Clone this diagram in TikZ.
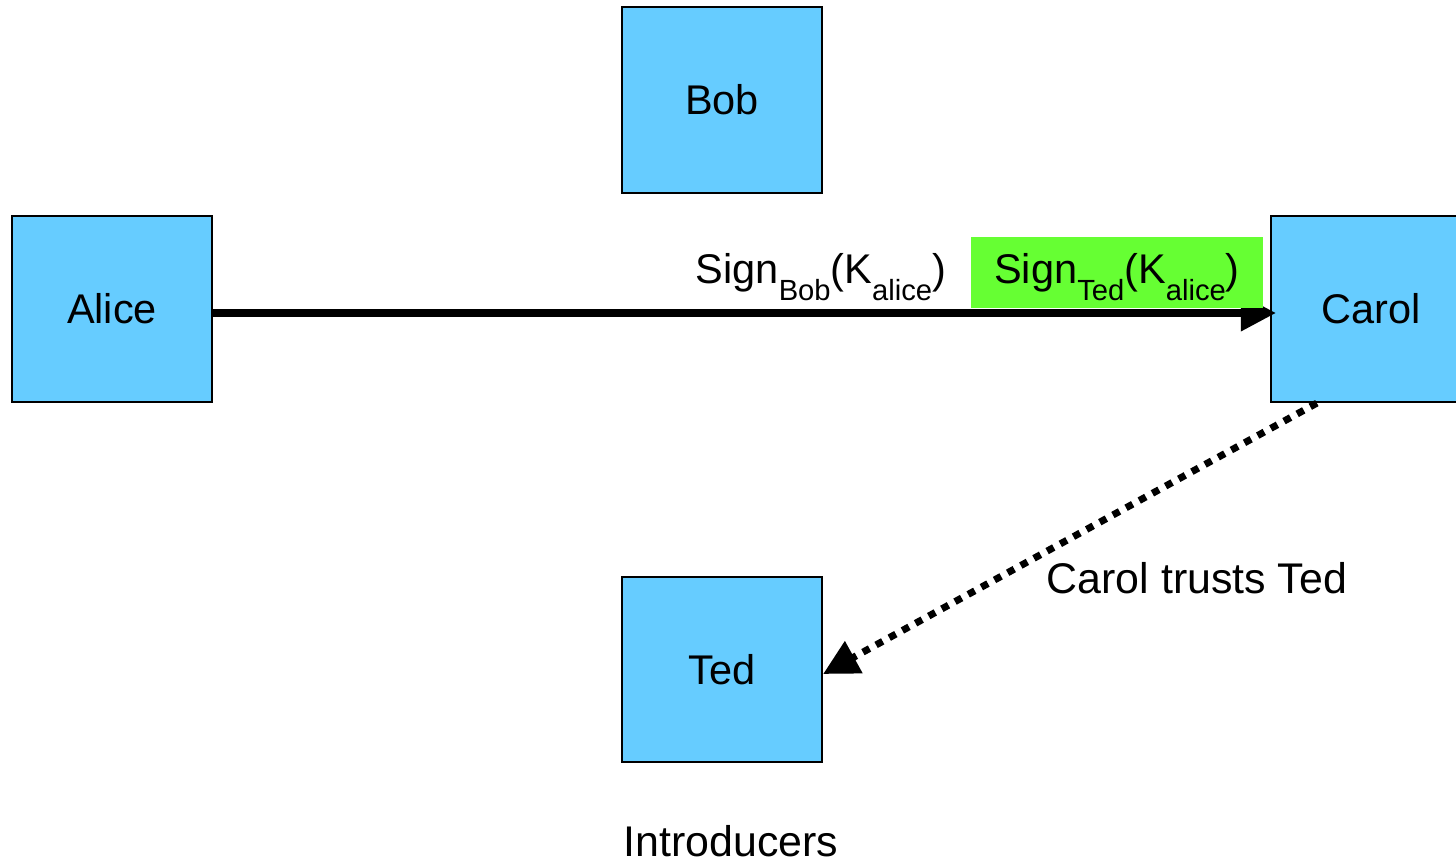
\documentclass[tikz,border=0pt]{standalone}
\usepackage{fontspec}
\setmainfont{Liberation Sans}
\usetikzlibrary{arrows.meta,calc}
\definecolor{boxblue}{RGB}{102,204,255}
\definecolor{signgreen}{RGB}{102,255,51}
% lowered small text for the key subscripts
\newcommand{\lowsub}[1]{\raisebox{-4.6pt}{\fontsize{8.3pt}{9pt}\selectfont #1}}
\begin{document}
\begin{tikzpicture}[x=0.01cm,y=-0.01cm,
  party/.style={draw=black, line width=0.6pt, fill=boxblue,
    minimum width=2cm, minimum height=1.86cm, inner sep=0pt,
    font=\fontsize{11.8pt}{14pt}\selectfont},
  plain/.style={inner sep=0pt, font=\fontsize{11.8pt}{14pt}\selectfont},
  caption/.style={inner sep=0pt, font=\fontsize{12.2pt}{14pt}\selectfont},
  tip/.style={-{Triangle[length=0.35cm,width=0.35cm]}}]
\useasboundingbox (0,0) rectangle (1456,867);
\clip (0,0) rectangle (1456,867);

% the four parties
\node[party] (bob)   at (722,100)   {Bob};
\node[party] (alice) at (112,309)   {Alice};
\node[party] (carol) at (1371,309)  {Carol};
\node[party, minimum height=1.85cm] (ted) at (722,669.5) {Ted};

% key transfer from Alice to Carol
\draw[tip, line width=0.07cm] ([yshift=-0.04cm]alice.east)
  -- ([xshift=0.06cm,yshift=-0.04cm]carol.west);

% signatures carried along
\node[plain, anchor=base west] (signbob) at (695,284)
  {Sign\lowsub{Bob}(K\lowsub{alice})};
\node[plain, fill=signgreen, text height=0.47cm, text depth=0.24cm,
  minimum width=2.92cm, anchor=base] (signted) at (1117,284)
  {Sign\lowsub{Ted}(K\lowsub{alice})};

% trust relation
\draw[tip, line width=0.07cm, dash pattern=on 0.075cm off 0.075cm]
  ($(carol.south west)+(47,0)$) -- ([yshift=-0.045cm]ted.east);
\node[caption, anchor=base west] (trust) at (1046,594) {Carol trusts Ted};

\node[caption, anchor=base west] (intro) at (623,857) {Introducers};
\end{tikzpicture}
\end{document}
